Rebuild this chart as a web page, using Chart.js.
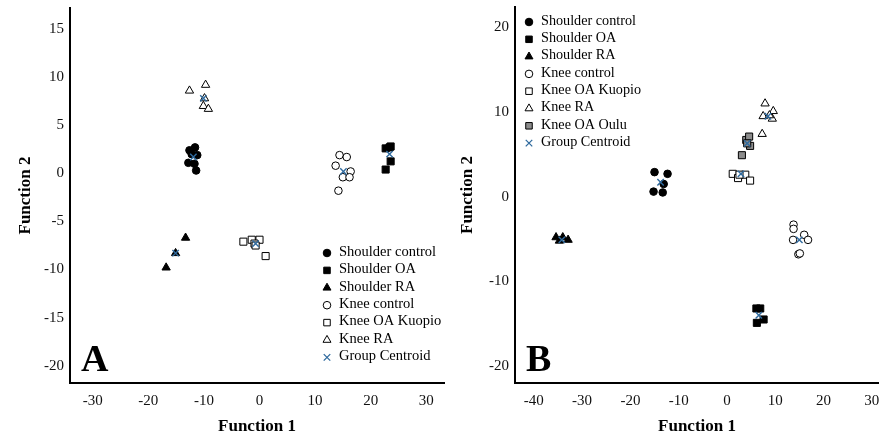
<!DOCTYPE html>
<html>
<head>
<meta charset="utf-8">
<script src="https://cdn.jsdelivr.net/npm/chart.js@4.4.1/dist/chart.umd.min.js"></script>
<style>
  body { margin: 0; background: #fff; overflow: hidden; }
  #wrap { position: relative; width: 879px; height: 437px; overflow: hidden; }
  .box { position: absolute; top: 0; height: 437px; width: 452px; }
  #boxA { left: 0; }
  #boxB { left: 440px; }
</style>
</head>
<body>
<div id="wrap">
  <div class="box" id="boxA"><canvas id="chartA"></canvas></div>
  <div class="box" id="boxB"><canvas id="chartB"></canvas></div>
</div>
<script>
// ---------- panel A data ----------
var aShoulderControl = [[-12.6, 2.4], [-11.6, 2.7], [-11.2, 1.9], [-12.8, 1.1], [-11.4, 0.3], [-12.2, 2.0], [-11.7, 1.0]];
var aShoulderOA = [[22.7, 0.4], [23.4, 2.7], [23.6, 2.8], [22.7, 2.6], [23.6, 1.25]];
var aShoulderRA = [[-13.3, -6.7], [-15.1, -8.3], [-16.8, -9.8]];
var aKneeControl = [[14.4, 1.9], [15.7, 1.7], [13.7, 0.8], [16.4, 0.2], [15.0, -0.4], [16.2, -0.4], [14.2, -1.8]];
var aKneeOAKuopio = [[-2.9, -7.1], [-1.4, -6.9], [0.0, -6.9], [-0.9, -7.3], [-0.7, -7.5], [1.1, -8.6]];
var aKneeRA = [[-12.6, 8.6], [-9.7, 9.2], [-9.9, 7.8], [-10.1, 7.0], [-9.2, 6.7]];
var aCentroids = [[-11.9, 1.7], [23.4, 2.0], [-15.1, -8.3], [15.1, 0.2], [-0.7, -7.3], [-10.1, 7.8]];

// ---------- panel B data ----------
var bShoulderControl = [[-15.0, 2.9], [-12.3, 2.7], [-13.1, 1.5], [-15.2, 0.6], [-13.3, 0.5]];
var bShoulderOA = [[6.1, -13.2], [6.9, -13.2], [7.6, -14.5], [6.2, -14.9]];
var bShoulderRA = [[-35.4, -4.8], [-34.0, -4.8], [-32.9, -5.1], [-34.7, -5.2]];
var bKneeControl = [[13.8, -3.3], [13.8, -3.8], [13.7, -5.1], [16.0, -4.5], [16.8, -5.1], [14.8, -6.8], [15.1, -6.7]];
var bKneeOAKuopio = [[1.2, 2.7], [2.3, 2.2], [3.8, 2.6], [4.8, 1.9], [2.6, 2.6]];
var bKneeRA = [[7.9, 11.0], [9.6, 10.1], [7.5, 9.5], [9.4, 9.2], [7.3, 7.4], [8.8, 9.6]];
var bKneeOAOulu = [[3.1, 4.9], [4.0, 6.7], [4.6, 7.1], [4.8, 6.0], [4.2, 6.3]];
var bCentroids = [[-13.75, 1.7], [6.6, -14.0], [-34.2, -5.1], [15.0, -5.1], [2.9, 2.7], [8.5, 9.5], [4.2, 6.3]];

// tick labels
var xTicksA = [-30, -20, -10, 0, 10, 20, 30];
var yTicksA = [-20, -15, -10, -5, 0, 5, 10, 15];
var xTicksB = [-40, -30, -20, -10, 0, 10, 20, 30];
var yTicksB = [-20, -10, 0, 10, 20];

var serif = "'Liberation Serif', 'DejaVu Serif', serif";
var centroidBlue = "#2f6a9e";

function toXY(arr) {
    return arr.map(p => ({x: p[0], y: p[1]}));
}

//marker styles for each group
var groupStyles = {
    "Shoulder control": {pointStyle: "circle", radius: 3.8, fill: "#000", stroke: "#000"},
    "Shoulder OA": {pointStyle: "rect", radius: 5, fill: "#000", stroke: "#000"},
    "Shoulder RA": {pointStyle: "triangle", radius: 4.8, fill: "#000", stroke: "#000"},
    "Knee control": {pointStyle: "circle", radius: 3.8, fill: "#fff", stroke: "#000"},
    "Knee OA Kuopio": {pointStyle: "rect", radius: 5, fill: "#fff", stroke: "#000"},
    "Knee RA": {pointStyle: "triangle", radius: 4.8, fill: "#fff", stroke: "#000"},
    "Knee OA Oulu": {pointStyle: "rect", radius: 5, fill: "#8c8c8c", stroke: "#000"},
    "Group Centroid": {pointStyle: "crossRot", radius: 4.5, fill: centroidBlue, stroke: centroidBlue}
};

function makeDataset(label, arr) {
    var s = groupStyles[label];
    return {
        label: label,
        data: toXY(arr),
        pointStyle: s.pointStyle,
        pointRadius: s.radius,
        pointHoverRadius: s.radius,
        backgroundColor: s.fill,
        borderColor: s.stroke,
        borderWidth: s.pointStyle === "crossRot" ? 1.4 : 1,
        order: label === "Group Centroid" ? 0 : 1
    };
}

//draws the legend inside the plot, plus the big panel letter
const innerLegend = {
    id: "innerLegend",
    afterDraw(chart, args, opts) {
        const ctx = chart.ctx;
        ctx.save();
        ctx.font = opts.fontSize + "px " + serif;
        ctx.textBaseline = "middle";
        ctx.textAlign = "left";
        chart.data.datasets.forEach((ds, i) => {
            const y = opts.y + i * opts.row;
            const r = ds.pointStyle === "circle" ? 3.8 : 4.6;
            ctx.fillStyle = ds.backgroundColor;
            ctx.strokeStyle = ds.borderColor;
            ctx.lineWidth = ds.pointStyle === "crossRot" ? 1.3 : 1;
            Chart.helpers.drawPoint(ctx, {pointStyle: ds.pointStyle, radius: r, borderWidth: 1}, opts.x, y + 1);
            ctx.fillStyle = "#000";
            ctx.fillText(ds.label, opts.x + 12, y);
        });
        ctx.font = "bold 38px " + serif;
        ctx.textBaseline = "alphabetic";
        ctx.fillText(opts.letter, opts.letterX, opts.letterY);
        ctx.restore();
    }
};

function makeOptions(xr, yr, xTicks, yTicks, yWidth, legendPos) {
    return {
        responsive: false,
        animation: false,
        events: [],
        layout: {padding: {top: legendPos.padTop, right: legendPos.padRight, left: 0, bottom: 0}},
        plugins: {
            legend: {display: false},
            tooltip: {enabled: false},
            innerLegend: legendPos
        },
        scales: {
            x: {
                type: "linear",
                min: xr[0], max: xr[1],
                afterBuildTicks: s => { s.ticks = xTicks.map(v => ({value: v})); },
                afterFit: s => { s.height = 437 - 383; s.paddingLeft = 0; s.paddingRight = 0; },
                grid: {display: false, drawTicks: false},
                border: {display: true, color: "#000", width: 2},
                ticks: {color: "#111", padding: 9, font: {family: serif, size: 15}},
                title: {display: true, text: "Function 1", color: "#000", padding: {top: 0, bottom: 0},
                        font: {family: serif, size: 17, weight: "bold"}}
            },
            y: {
                type: "linear",
                min: yr[0], max: yr[1],
                afterBuildTicks: s => { s.ticks = yTicks.map(v => ({value: v})); },
                afterFit: s => { s.width = yWidth; s.paddingTop = 0; s.paddingBottom = 0; },
                grid: {display: false, drawTicks: false},
                border: {display: true, color: "#000", width: 2},
                ticks: {color: "#111", padding: 6, font: {family: serif, size: 15}},
                title: {display: true, text: "Function 2", color: "#000", padding: {top: legendPos.yTitlePad, bottom: 0},
                        font: {family: serif, size: 17, weight: "bold"}}
            }
        }
    };
}

var canvasA = document.getElementById("chartA");
canvasA.width = 452; canvasA.height = 437;
new Chart(canvasA, {
    type: "scatter",
    data: {
        datasets: [
            makeDataset("Shoulder control", aShoulderControl),
            makeDataset("Shoulder OA", aShoulderOA),
            makeDataset("Shoulder RA", aShoulderRA),
            makeDataset("Knee control", aKneeControl),
            makeDataset("Knee OA Kuopio", aKneeOAKuopio),
            makeDataset("Knee RA", aKneeRA),
            makeDataset("Group Centroid", aCentroids)
        ]
    },
    options: makeOptions([-34.1, 33.2], [-21.8, 17.2], xTicksA, yTicksA, 70,
        {x: 327, y: 252, row: 17.4, fontSize: 14.5, letter: "A", letterX: 81, letterY: 371,
         padTop: 8, padRight: 8, yTitlePad: 15}),
    plugins: [innerLegend]
});

var canvasB = document.getElementById("chartB");
canvasB.width = 452; canvasB.height = 437;
new Chart(canvasB, {
    type: "scatter",
    data: {
        datasets: [
            makeDataset("Shoulder control", bShoulderControl),
            makeDataset("Shoulder OA", bShoulderOA),
            makeDataset("Shoulder RA", bShoulderRA),
            makeDataset("Knee control", bKneeControl),
            makeDataset("Knee OA Kuopio", bKneeOAKuopio),
            makeDataset("Knee RA", bKneeRA),
            makeDataset("Knee OA Oulu", bKneeOAOulu),
            makeDataset("Group Centroid", bCentroids)
        ]
    },
    options: makeOptions([-43.9, 31.5], [-22.0, 22.4], xTicksB, yTicksB, 75,
        {x: 89, y: 21, row: 17.3, fontSize: 14.2, letter: "B", letterX: 86, letterY: 371,
         padTop: 7, padRight: 13, yTitlePad: 17}),
    plugins: [innerLegend]
});
</script>
</body>
</html>
